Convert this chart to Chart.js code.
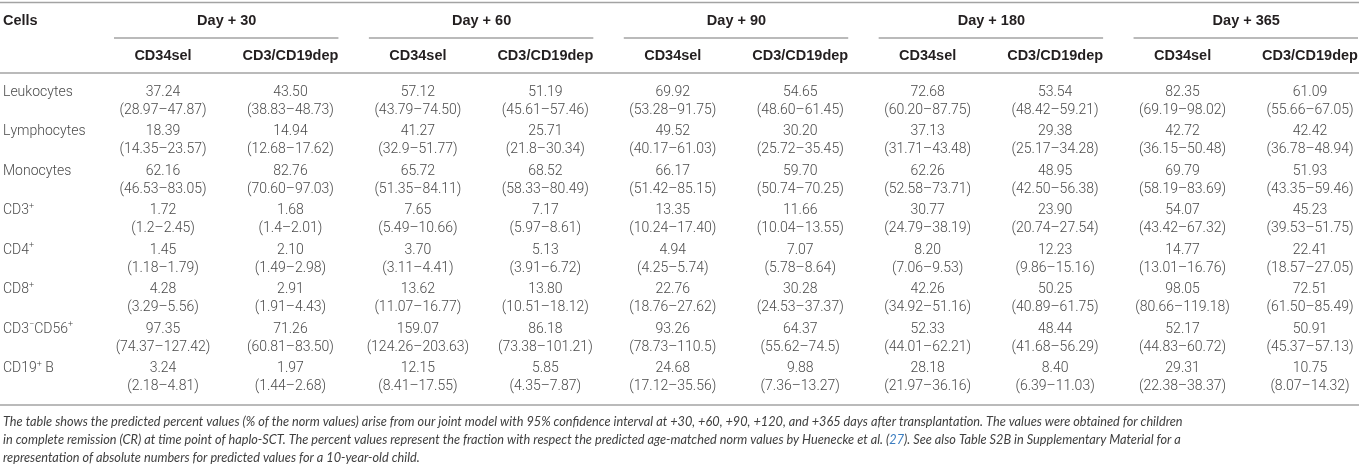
<!DOCTYPE html>
<html><head><meta charset="utf-8">
<script src="https://cdn.jsdelivr.net/npm/chart.js@4.4.0/dist/chart.umd.min.js"></script>
<style>html,body{margin:0;padding:0;background:#fff;overflow:hidden}#wrap{width:1359px;height:467px;position:relative}</style>
</head><body><div id="wrap"><canvas id="c"></canvas></div>
<script>
// ---------- data ----------
const dayGroups = ['Day + 30', 'Day + 60', 'Day + 90', 'Day + 180', 'Day + 365'];
const protocols = ['CD34sel', 'CD3/CD19dep'];
const firstHeader = 'Cells';
const cellTypes = ['Leukocytes', 'Lymphocytes', 'Monocytes', 'CD3⁺', 'CD4⁺', 'CD8⁺', 'CD3⁻CD56⁺', 'CD19⁺ B'];

const leukocytesEst = [37.24, 43.50, 57.12, 51.19, 69.92, 54.65, 72.68, 53.54, 82.35, 61.09];
const leukocytesCI = ['28.97–47.87', '38.83–48.73', '43.79–74.50', '45.61–57.46', '53.28–91.75', '48.60–61.45', '60.20–87.75', '48.42–59.21', '69.19–98.02', '55.66–67.05'];
const lymphocytesEst = [18.39, 14.94, 41.27, 25.71, 49.52, 30.20, 37.13, 29.38, 42.72, 42.42];
const lymphocytesCI = ['14.35–23.57', '12.68–17.62', '32.9–51.77', '21.8–30.34', '40.17–61.03', '25.72–35.45', '31.71–43.48', '25.17–34.28', '36.15–50.48', '36.78–48.94'];
const monocytesEst = [62.16, 82.76, 65.72, 68.52, 66.17, 59.70, 62.26, 48.95, 69.79, 51.93];
const monocytesCI = ['46.53–83.05', '70.60–97.03', '51.35–84.11', '58.33–80.49', '51.42–85.15', '50.74–70.25', '52.58–73.71', '42.50–56.38', '58.19–83.69', '43.35–59.46'];
const cd3Est = [1.72, 1.68, 7.65, 7.17, 13.35, 11.66, 30.77, 23.90, 54.07, 45.23];
const cd3CI = ['1.2–2.45', '1.4–2.01', '5.49–10.66', '5.97–8.61', '10.24–17.40', '10.04–13.55', '24.79–38.19', '20.74–27.54', '43.42–67.32', '39.53–51.75'];
const cd4Est = [1.45, 2.10, 3.70, 5.13, 4.94, 7.07, 8.20, 12.23, 14.77, 22.41];
const cd4CI = ['1.18–1.79', '1.49–2.98', '3.11–4.41', '3.91–6.72', '4.25–5.74', '5.78–8.64', '7.06–9.53', '9.86–15.16', '13.01–16.76', '18.57–27.05'];
const cd8Est = [4.28, 2.91, 13.62, 13.80, 22.76, 30.28, 42.26, 50.25, 98.05, 72.51];
const cd8CI = ['3.29–5.56', '1.91–4.43', '11.07–16.77', '10.51–18.12', '18.76–27.62', '24.53–37.37', '34.92–51.16', '40.89–61.75', '80.66–119.18', '61.50–85.49'];
const nkEst = [97.35, 71.26, 159.07, 86.18, 93.26, 64.37, 52.33, 48.44, 52.17, 50.91];
const nkCI = ['74.37–127.42', '60.81–83.50', '124.26–203.63', '73.38–101.21', '78.73–110.5', '55.62–74.5', '44.01–62.21', '41.68–56.29', '44.83–60.72', '45.37–57.13'];
const bCellEst = [3.24, 1.97, 12.15, 5.85, 24.68, 9.88, 28.18, 8.40, 29.31, 10.75];
const bCellCI = ['2.18–4.81', '1.44–2.68', '8.41–17.55', '4.35–7.87', '17.12–35.56', '7.36–13.27', '21.97–36.16', '6.39–11.03', '22.38–38.37', '8.07–14.32'];

const footnoteLines = [
  'The table shows the predicted percent values (% of the norm values) arise from our joint model with 95% confidence interval at +30, +60, +90, +120, and +365 days after transplantation. The values were obtained for children',
  'in complete remission (CR) at time point of haplo-SCT. The percent values represent the fraction with respect the predicted age-matched norm values by Huenecke et al. ([27]). See also Table S2B in Supplementary Material for a',
  'representation of absolute numbers for predicted values for a 10-year-old child.'
];

const estimates = [leukocytesEst, lymphocytesEst, monocytesEst, cd3Est, cd4Est, cd8Est, nkEst, bCellEst];
const intervals = [leukocytesCI, lymphocytesCI, monocytesCI, cd3CI, cd4CI, cd8CI, nkCI, bCellCI];

// ---------- styles ----------
const W = 1359;
const RULE = '#a3a3a3';
const BODY_COLOR = '#4a4a4a';
const HEAD_COLOR = '#231f20';
const BODY_FONT = 'Roboto, "Liberation Sans", sans-serif';
const HEAD_FONT = '"Liberation Sans", Arial, sans-serif';
const NOTE_FONT = 'Lato, "Liberation Sans", sans-serif';

const columns = [];
dayGroups.forEach(d => protocols.forEach(p => columns.push(d + ' ' + p)));

const datasets = columns.map((label, c) => ({
  label,
  data: cellTypes.map((_, r) => ({ x: c, y: r, est: estimates[r][c].toFixed(2), ci: '(' + intervals[r][c] + ')' })),
  pointRadius: 0, pointHoverRadius: 0, showLine: false
}));

function drawRich(ctx, text, x, y, size, weight, color) {
  ctx.fillStyle = color;
  ctx.textAlign = 'left';
  let cx = x;
  for (const ch of text) {
    if (ch === '⁺' || ch === '⁻') {
      const s = Math.round(size * 0.62);
      ctx.font = weight + ' ' + s + 'px ' + BODY_FONT;
      const g = ch === '⁺' ? '+' : '−';
      ctx.fillText(g, cx, y - size * 0.3);
      cx += ctx.measureText(g).width;
    } else {
      ctx.font = weight + ' ' + size + 'px ' + BODY_FONT;
      ctx.fillText(ch, cx, y);
      cx += ctx.measureText(ch).width;
    }
  }
}

function hline(ctx, x1, x2, y, w) {
  ctx.strokeStyle = RULE; ctx.lineWidth = w;
  ctx.beginPath(); ctx.moveTo(x1, y); ctx.lineTo(x2, y); ctx.stroke();
}

const tablePlugin = {
  id: 'tablePlugin',
  afterDatasetsDraw(chart) {
    const ctx = chart.ctx;
    const xs = chart.scales.x, ys = chart.scales.y;
    ctx.save();
    ctx.textBaseline = 'middle';
    hline(ctx, 0, W, 2.5, 1.6);
    hline(ctx, 0, W, 73, 1.6);
    hline(ctx, 0, W, 405, 1.6);
    ctx.fillStyle = HEAD_COLOR;
    ctx.font = 'bold 14.5px ' + HEAD_FONT;
    ctx.textAlign = 'left';
    ctx.fillText(firstHeader, 3, 21);
    dayGroups.forEach((d, g) => {
      const a = xs.getPixelForValue(2 * g), b = xs.getPixelForValue(2 * g + 1);
      ctx.fillStyle = HEAD_COLOR;
      ctx.font = 'bold 14.5px ' + HEAD_FONT;
      ctx.textAlign = 'center';
      ctx.fillText(d, (a + b) / 2, 21);
      hline(ctx, a - 49, Math.min(W, b + 48), 38, 1.4);
    });
    columns.forEach((_, c) => {
      ctx.fillStyle = HEAD_COLOR;
      ctx.font = 'bold 14.5px ' + HEAD_FONT;
      ctx.textAlign = 'center';
      ctx.fillText(protocols[c % 2], xs.getPixelForValue(c), 56);
    });
    cellTypes.forEach((name, r) => {
      drawRich(ctx, name, 3, ys.getPixelForValue(r), 14, '300', BODY_COLOR);
    });
    chart.data.datasets.forEach((ds, i) => {
      const meta = chart.getDatasetMeta(i);
      meta.data.forEach((el, j) => {
        const raw = ds.data[j];
        ctx.fillStyle = BODY_COLOR;
        ctx.font = '300 14px ' + BODY_FONT;
        ctx.textAlign = 'center';
        ctx.fillText(raw.est, el.x, el.y);
        ctx.fillText(raw.ci, el.x, el.y + 18);
      });
    });
    // footnote: size the italic note so its first line ends where the reference's does
    ctx.font = 'italic 12px ' + NOTE_FONT;
    const w12 = ctx.measureText(footnoteLines[0]).width;
    const noteSize = Math.min(13.5, 12 * 1180 / w12);
    footnoteLines.forEach((line, k) => {
      const y = 422 + k * 18;
      let x = 3;
      const parts = line.split(/(\[[^\]]+\])/);
      ctx.textAlign = 'left';
      ctx.font = 'italic ' + noteSize.toFixed(2) + 'px ' + NOTE_FONT;
      parts.forEach(p => {
        if (!p) return;
        let t = p, col = '#404040';
        if (p.startsWith('[')) { t = p.slice(1, -1); col = '#3b7dc0'; }
        ctx.fillStyle = col;
        ctx.fillText(t, x, y);
        x += ctx.measureText(t).width;
      });
    });
    ctx.restore();
  }
};

new Chart(document.getElementById('c'), {
  type: 'scatter',
  data: { datasets },
  options: {
    responsive: true, maintainAspectRatio: false, animation: false,
    layout: { padding: { left: 163, right: 49, top: 92, bottom: 98.5 } },
    plugins: { legend: { display: false }, tooltip: { enabled: false } },
    events: [],
    scales: {
      x: { type: 'linear', min: 0, max: 9, display: false },
      y: { type: 'linear', min: 0, max: 7, reverse: true, display: false }
    }
  },
  plugins: [tablePlugin]
});
</script></body></html>
